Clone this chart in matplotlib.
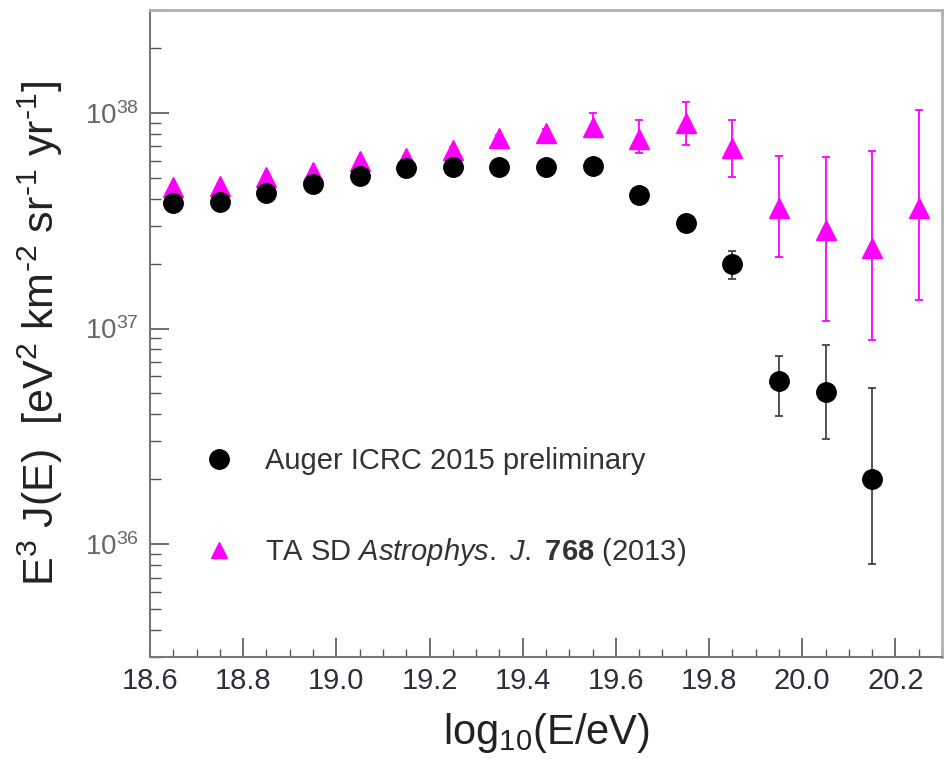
import numpy as np
import matplotlib
matplotlib.use("Agg")
import matplotlib.pyplot as plt
from matplotlib.lines import Line2D
from matplotlib.ticker import MultipleLocator, LogLocator, FixedLocator, NullFormatter

plt.rcParams['font.family'] = ['Liberation Sans', 'DejaVu Sans']
plt.rcParams['mathtext.fontset'] = 'custom'
plt.rcParams['mathtext.rm'] = 'Liberation Sans'
plt.rcParams['mathtext.it'] = 'Liberation Sans:italic'
plt.rcParams['mathtext.bf'] = 'Liberation Sans:bold'

# log10(E/eV) bin centres
auger_x = [18.65, 18.75, 18.85, 18.95, 19.05, 19.15, 19.25, 19.35, 19.45, 19.55,
           19.65, 19.75, 19.85, 19.95, 20.05, 20.15]
# E^3 J(E) in eV^2 km^-2 sr^-1 yr^-1
auger_y = [3.83e37, 3.85e37, 4.26e37, 4.69e37, 5.11e37, 5.56e37, 5.62e37, 5.62e37,
           5.62e37, 5.69e37, 4.17e37, 3.10e37, 2.00e37, 5.74e36, 5.06e36, 2.00e36]
auger_lo = [3.75e37, 3.77e37, 4.18e37, 4.61e37, 5.03e37, 5.47e37, 5.52e37, 5.51e37,
            5.50e37, 5.56e37, 4.05e37, 2.98e37, 1.69e37, 3.92e36, 3.06e36, 8.07e35]
auger_hi = [3.91e37, 3.93e37, 4.34e37, 4.77e37, 5.19e37, 5.65e37, 5.72e37, 5.73e37,
            5.74e37, 5.82e37, 4.29e37, 3.22e37, 2.30e37, 7.50e36, 8.40e36, 5.33e36]

ta_x = [18.65, 18.75, 18.85, 18.95, 19.05, 19.15, 19.25, 19.35, 19.45, 19.55,
        19.65, 19.75, 19.85, 19.95, 20.05, 20.15, 20.25]
ta_y = [4.54e37, 4.59e37, 5.06e37, 5.33e37, 6.00e37, 6.19e37, 6.75e37, 7.66e37,
        8.08e37, 8.61e37, 7.59e37, 8.99e37, 6.89e37, 3.63e37, 2.87e37, 2.37e37, 3.63e37]
ta_lo = [4.45e37, 4.50e37, 4.96e37, 5.22e37, 5.87e37, 6.05e37, 6.58e37, 7.42e37,
         7.78e37, 7.74e37, 6.53e37, 7.11e37, 5.06e37, 2.15e37, 1.08e37, 8.89e36, 1.36e37]
ta_hi = [4.63e37, 4.68e37, 5.16e37, 5.44e37, 6.13e37, 6.33e37, 6.92e37, 7.90e37,
         8.38e37, 1.00e38, 9.29e37, 1.12e38, 9.29e37, 6.32e37, 6.25e37, 6.67e37, 1.03e38]

labels = ['Auger ICRC 2015 preliminary',
          r'TA SD $\it{Astrophys.\ J.}$ $\bf{768}$ (2013)']

magenta = '#ff00ff'

fig = plt.figure(figsize=(9.44, 7.64), dpi=100)
ax = fig.add_axes([150 / 944, 1 - 657 / 764, 792 / 944, 647 / 764])

ta_err = [np.array(ta_y) - np.array(ta_lo), np.array(ta_hi) - np.array(ta_y)]
ax.errorbar(ta_x, ta_y, yerr=ta_err, fmt='^', color=magenta, ms=14, mec=magenta,
            ecolor=magenta, elinewidth=1.3, capsize=3, capthick=1.3, zorder=3)

auger_err = [np.array(auger_y) - np.array(auger_lo), np.array(auger_hi) - np.array(auger_y)]
ax.errorbar(auger_x, auger_y, yerr=auger_err, fmt='o', color='black', ms=14,
            ecolor='#444444', elinewidth=1.3, capsize=3, capthick=1.3, zorder=4)

ax.set_yscale('log')
ax.set_xlim(18.6, 20.3)
ax.set_ylim(3e35, 3e38)

# x ticks
ax.xaxis.set_minor_locator(MultipleLocator(0.05))
ax.set_xticks([18.6, 18.8, 19.0, 19.2, 19.4, 19.6, 19.8, 20.0, 20.2])
ax.set_xticklabels(['18.6', '18.8', '19.0', '19.2', '19.4', '19.6', '19.8', '20.0', '20.2'])

# y ticks
ax.yaxis.set_major_locator(FixedLocator([1e36, 1e37, 1e38]))
ax.set_yticklabels([r'$10^{36}$', r'$10^{37}$', r'$10^{38}$'])
ax.yaxis.set_minor_locator(LogLocator(base=10, subs=np.arange(2, 10)))
ax.yaxis.set_minor_formatter(NullFormatter())

ax.tick_params(axis='x', which='major', direction='in', length=14, width=1.2,
               color='#555555', labelsize=21, labelcolor='#2a2f3a', pad=7, top=False)
ax.tick_params(axis='x', which='minor', direction='in', length=6, width=1.0,
               color='#555555', top=False)
ax.tick_params(axis='y', which='major', direction='in', length=14, width=1.2,
               color='#555555', labelsize=20, labelcolor='#666666', pad=8, right=False)
ax.tick_params(axis='y', which='minor', direction='in', length=8, width=1.0,
               color='#555555', right=False)

for side in ['left', 'bottom']:
    ax.spines[side].set_color('#777777')
    ax.spines[side].set_linewidth(1.5)
for side in ['top', 'right']:
    ax.spines[side].set_color('#b0b0b0')
    ax.spines[side].set_linewidth(2.0)

ax.set_xlabel(r'log$_{10}$(E/eV)', fontsize=30, color='#222222', labelpad=12)
ax.set_ylabel('E$^{3}$ J(E)  [eV$^{2}$ km$^{\u2010 2}$ sr$^{\u2010 1}$ yr$^{\u2010 1}$]',
              fontsize=31, color='#222222', labelpad=14)

handles = [Line2D([], [], ls='none', marker='o', color='black', ms=14),
           Line2D([], [], ls='none', marker='^', color=magenta, ms=11)]
ax.legend(handles, labels, loc='upper left', bbox_to_anchor=(0.035, 0.365),
          frameon=False, fontsize=21, handlelength=1.0, handletextpad=1.1,
          labelspacing=2.1, labelcolor='#333333')

fig.savefig('out.png', dpi=100)
